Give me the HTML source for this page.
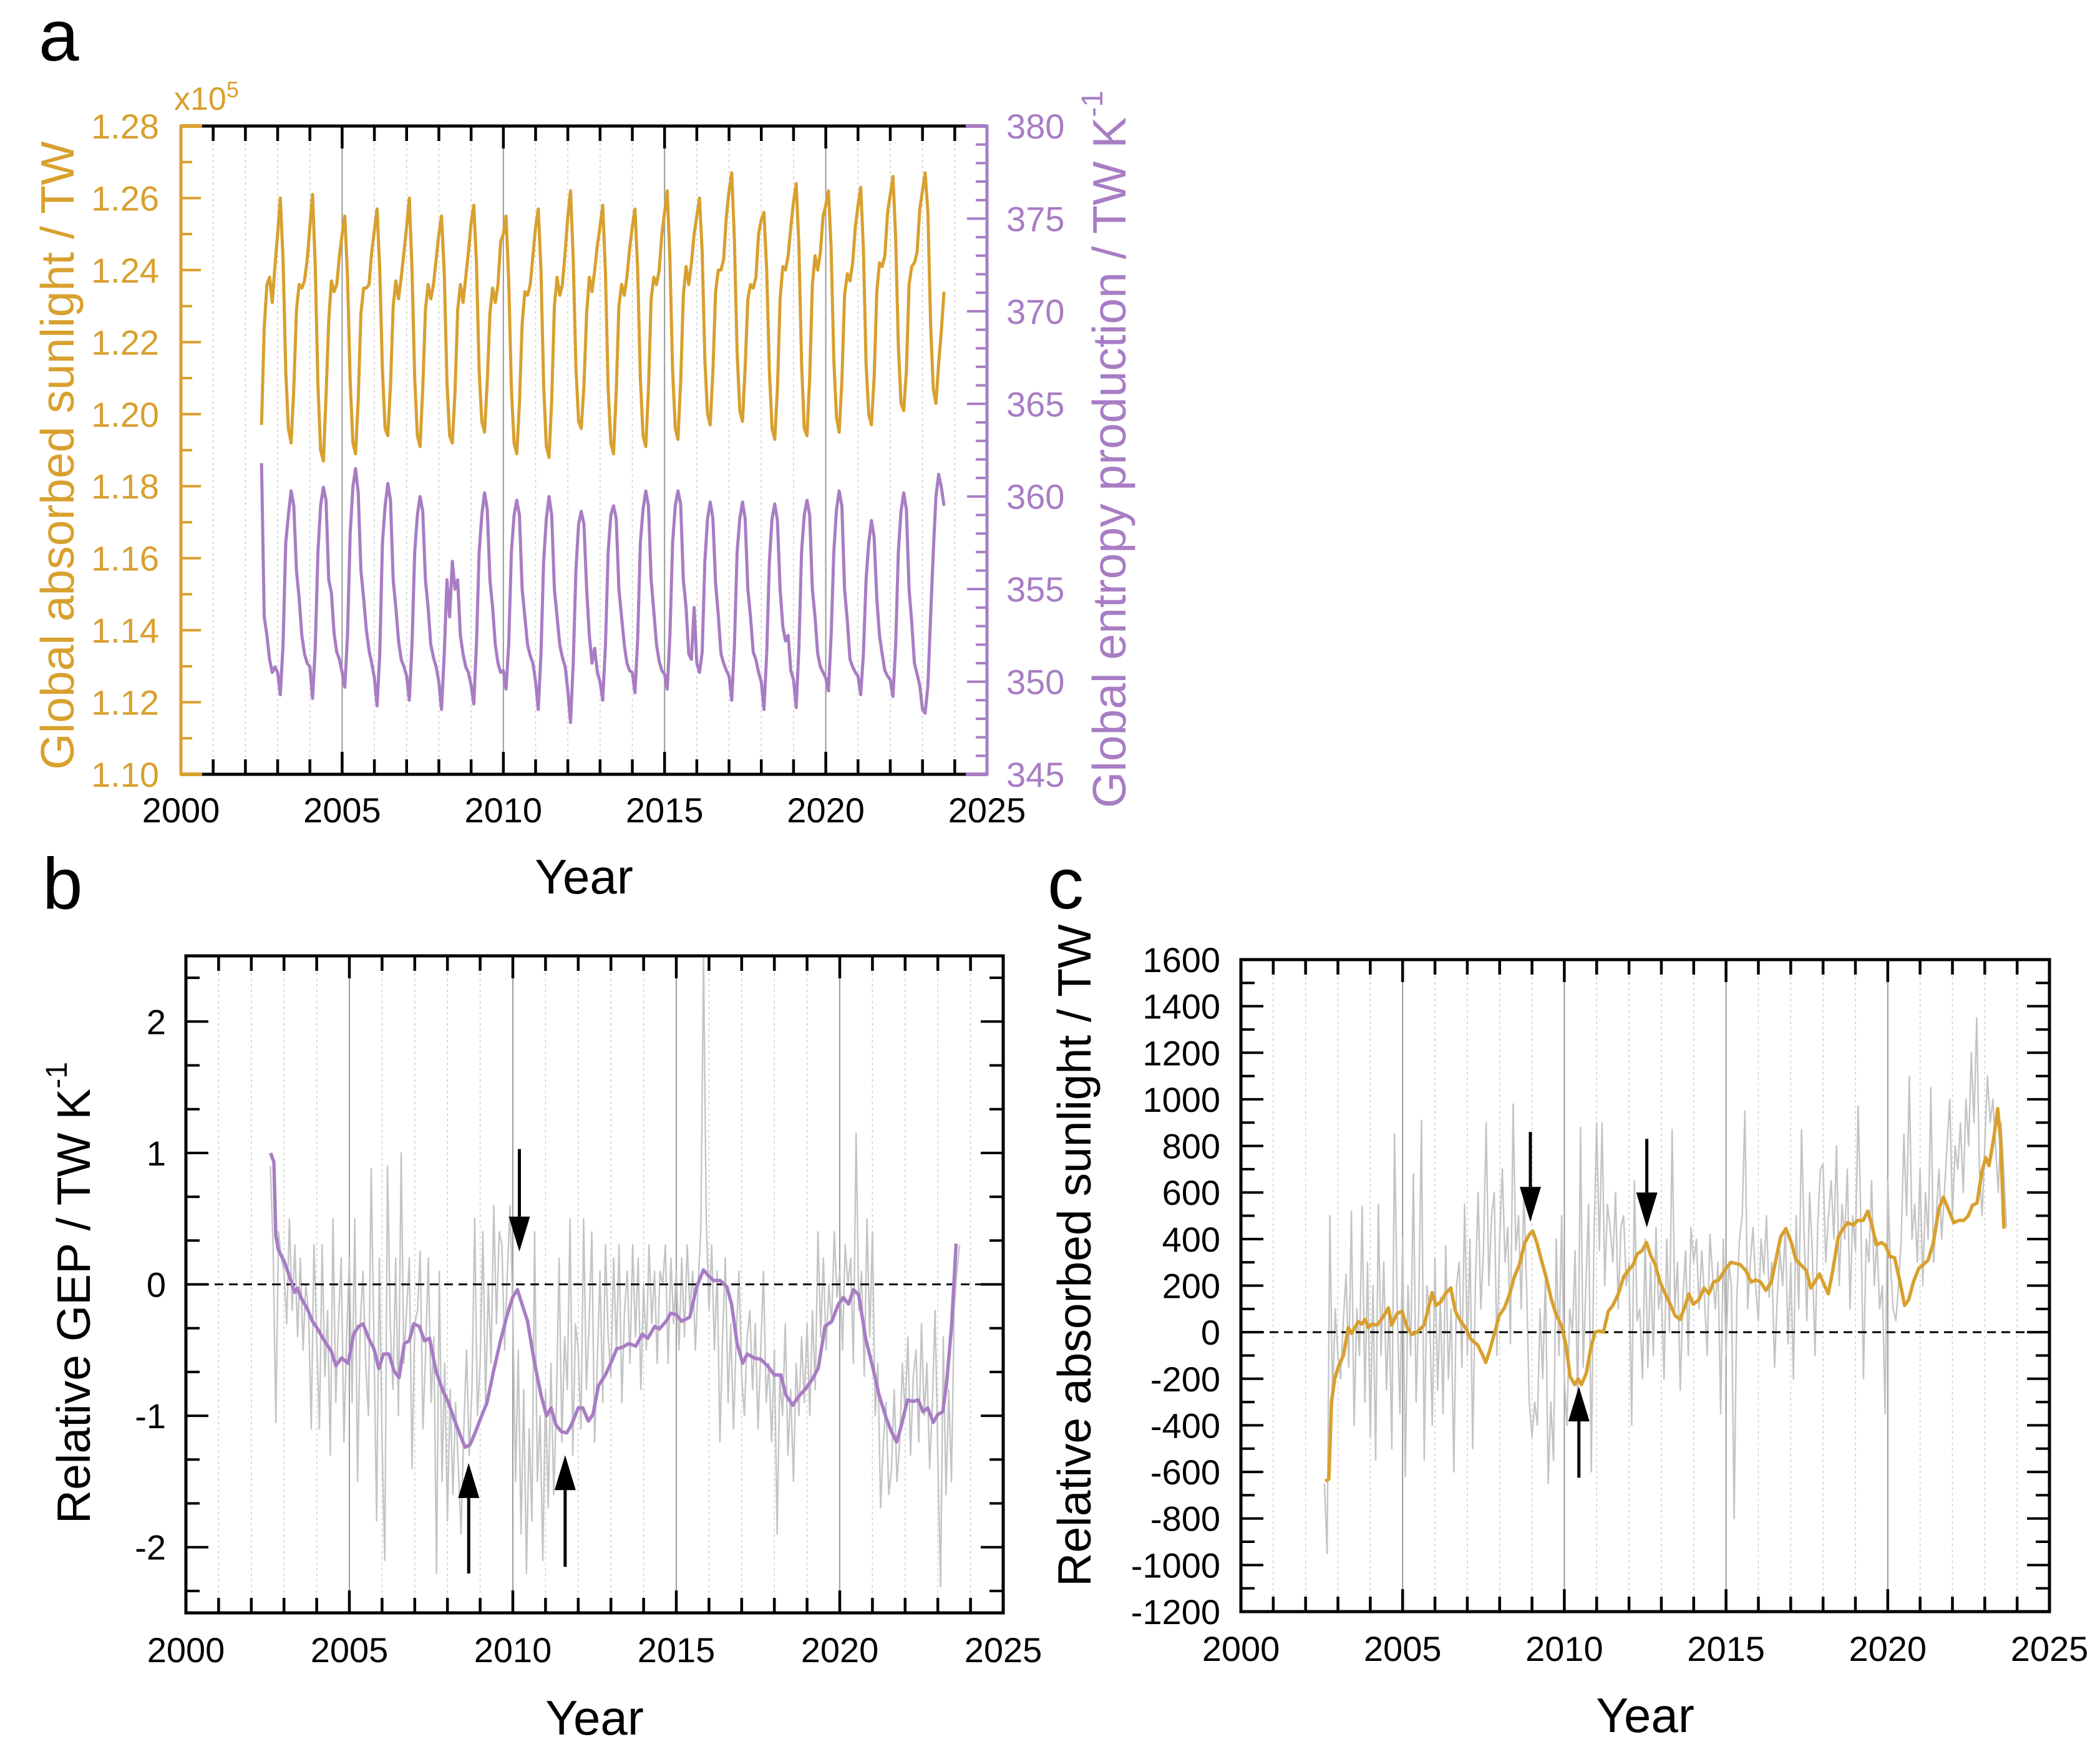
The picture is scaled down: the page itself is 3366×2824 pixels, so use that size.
<!DOCTYPE html>
<html><head><meta charset="utf-8"><style>
html,body{margin:0;padding:0;background:#fff;}
svg{display:block;font-family:"Liberation Sans",Arial,sans-serif;}
</style></head><body>
<svg id="fig" width="3366" height="2824" viewBox="0 0 3366 2824" xmlns="http://www.w3.org/2000/svg">
<rect x="0" y="0" width="3366" height="2824" fill="#fff"/>
<defs>
<clipPath id="clipA"><rect x="290" y="202" width="1292" height="1039"/></clipPath>
<clipPath id="clipB"><rect x="298" y="1532" width="1310" height="1053"/></clipPath>
<clipPath id="clipC"><rect x="1989" y="1538" width="1296" height="1045"/></clipPath>
</defs>
<g id="panelA"></g>
<g id="panelB"></g>
<g id="panelC"></g>
</svg>
<script>
// ---------- DATA ----------
const yearTicks = [2000, 2005, 2010, 2015, 2020, 2025];
const aLeftTicks = [1.10, 1.12, 1.14, 1.16, 1.18, 1.20, 1.22, 1.24, 1.26, 1.28];
const aRightTicks = [345, 350, 355, 360, 365, 370, 375, 380];
const bTicks = [-2, -1, 0, 1, 2];
const cTicks = [-1200, -1000, -800, -600, -400, -200, 0, 200, 400, 600, 800, 1000, 1200, 1400, 1600];

// Panel a: monthly, starting Jul 2002
const aStartYear = 2002, aStartMonth = 6;
const sunlight = [
1.197,1.224,1.236,1.238,1.231,1.241,
1.250,1.260,1.243,1.212,1.196,1.192,1.207,1.229,1.236,1.235,1.237,1.243,
1.252,1.261,1.241,1.208,1.190,1.187,1.205,1.226,1.237,1.234,1.236,1.244,
1.250,1.255,1.238,1.209,1.192,1.189,1.204,1.228,1.235,1.235,1.236,1.245,
1.251,1.257,1.240,1.212,1.196,1.194,1.208,1.230,1.237,1.232,1.238,1.245,
1.252,1.260,1.240,1.210,1.194,1.191,1.207,1.229,1.236,1.232,1.236,1.243,
1.250,1.255,1.239,1.209,1.194,1.192,1.206,1.229,1.236,1.231,1.238,1.245,
1.253,1.258,1.242,1.212,1.198,1.195,1.209,1.228,1.235,1.231,1.236,1.248,
1.250,1.255,1.237,1.207,1.192,1.189,1.203,1.225,1.234,1.233,1.236,1.244,
1.252,1.257,1.240,1.208,1.191,1.188,1.204,1.230,1.238,1.233,1.236,1.245,
1.255,1.262,1.243,1.213,1.198,1.196,1.208,1.228,1.238,1.234,1.240,1.247,
1.252,1.258,1.239,1.207,1.192,1.189,1.206,1.230,1.236,1.233,1.238,1.246,
1.252,1.257,1.240,1.210,1.194,1.191,1.207,1.232,1.238,1.236,1.240,1.250,
1.256,1.262,1.243,1.212,1.196,1.193,1.209,1.233,1.241,1.236,1.242,1.250,
1.255,1.260,1.245,1.215,1.200,1.197,1.212,1.234,1.240,1.240,1.243,1.255,
1.262,1.267,1.248,1.217,1.201,1.198,1.213,1.232,1.236,1.235,1.238,1.250,
1.254,1.256,1.240,1.212,1.196,1.193,1.207,1.232,1.241,1.240,1.244,1.252,
1.259,1.264,1.247,1.214,1.196,1.194,1.210,1.236,1.244,1.240,1.245,1.255,
1.258,1.262,1.246,1.215,1.199,1.195,1.209,1.233,1.239,1.237,1.242,1.252,
1.258,1.263,1.246,1.214,1.200,1.197,1.210,1.234,1.242,1.241,1.244,1.256,
1.261,1.266,1.249,1.219,1.203,1.201,1.212,1.236,1.241,1.242,1.245,1.257,
1.262,1.267,1.256,1.225,1.207,1.203,1.214,1.223,1.234];
const entropy = [
361.8,353.5,352.5,351.2,350.5,350.8,
350.5,349.3,352.0,357.5,359.0,360.3,359.5,356.0,354.5,352.5,351.5,351.0,
350.8,349.1,351.8,357.0,359.5,360.5,359.8,355.5,354.8,352.6,351.6,351.2,
350.5,349.7,352.5,358.0,360.5,361.5,360.2,356.0,354.5,352.8,351.7,351.0,
350.2,348.7,351.5,357.5,359.5,360.7,359.8,355.5,354.0,352.2,351.2,350.8,
350.3,349.0,352.0,357.0,359.0,360.0,359.2,355.5,354.0,352.0,351.3,350.8,
350.0,348.5,351.5,355.5,353.5,356.5,355.0,355.5,352.5,351.5,350.8,350.5,
349.8,348.8,352.0,357.0,359.0,360.2,359.3,355.5,354.0,352.0,351.0,350.5,
350.6,349.6,352.0,357.0,359.0,359.8,359.0,355.0,353.5,352.0,351.4,351.0,
350.0,348.5,351.5,356.5,358.8,360.0,359.0,355.0,353.5,352.0,351.3,350.8,
349.5,347.8,351.0,356.0,358.5,359.2,358.5,355.0,352.5,351.0,351.8,350.5,
350.0,349.0,352.0,357.0,359.0,359.5,358.8,355.0,353.5,352.0,351.0,350.6,
350.5,349.4,352.3,357.5,359.3,360.3,359.5,355.5,353.8,352.0,351.1,350.6,
350.4,349.6,352.5,357.5,359.5,360.3,359.6,355.5,354.0,351.5,351.2,354.0,
351.0,350.5,351.6,356.5,358.8,359.7,358.8,355.3,353.6,351.5,351.0,350.6,
350.3,349.0,352.0,357.0,358.8,359.7,358.8,355.0,353.5,351.6,351.2,350.5,
350.0,348.5,351.5,356.5,358.8,359.6,358.7,355.0,353.0,352.2,352.5,350.6,
350.1,348.6,351.8,357.0,359.0,359.8,359.0,355.0,353.5,351.5,350.8,350.5,
350.2,349.5,352.5,357.0,359.3,360.3,359.5,355.0,353.3,351.2,350.8,350.5,
350.3,349.3,351.5,355.5,357.5,358.7,357.8,354.5,352.5,351.5,350.6,350.3,
350.1,349.2,352.0,357.0,359.2,360.2,359.3,355.0,353.2,351.0,350.4,349.8,
348.5,348.3,349.8,353.5,357.0,360.0,361.2,360.5,359.5];

// Panel b & c monthly anomalies, starting Aug 2002
const anomStartYear = 2002, anomStartMonth = 7;
const gepMonthly = [
0.9,0.3,-1.05,0.4,0.2,
0.1,-0.3,0.5,-0.2,0.3,-0.4,0.2,-0.5,0.0,-0.2,-1.1,0.3,
-0.4,-1.1,0.3,-0.7,-0.2,-1.3,0.5,-0.9,-0.3,0.2,-1.2,-0.4,
0.2,-0.9,0.5,-1.5,-0.3,0.1,-0.6,-1.0,0.88,-0.4,-1.8,0.2,
-1.2,-2.1,0.9,-0.3,-0.8,0.2,-1.0,1.0,-0.6,-0.2,0.2,-1.4,
-0.3,-0.2,0.25,-1.1,-0.5,0.2,-0.9,-0.4,-2.2,0.1,-1.5,-0.6,
-1.8,-0.8,-1.6,-0.9,-1.4,-1.9,-1.1,-0.5,-1.3,-0.8,0.5,-1.0,
-0.6,0.4,-0.9,0.0,-0.6,0.6,-0.3,0.4,0.3,-0.5,0.1,0.6,
-0.2,-1.5,-0.5,-1.9,-0.8,-2.2,-1.1,-1.8,0.4,-1.5,-1.0,-2.1,
-0.8,-1.7,-0.6,-1.6,-0.9,0.2,-1.2,-0.4,-0.8,0.5,-1.3,-0.3,
-0.5,-1.1,0.5,-0.8,-0.3,0.4,-1.2,-0.6,0.1,-0.9,0.3,-0.4,
-0.7,0.2,-0.5,0.3,-0.9,-0.2,0.1,-0.6,0.3,-0.4,0.2,-0.8,
0.0,-0.5,0.3,-0.3,0.1,-0.6,0.1,0.0,0.3,-0.6,0.2,-0.3,
0.1,-0.5,0.2,-0.4,0.3,-0.2,0.1,-0.5,0.0,0.4,2.5,0.5,
-0.2,0.3,-0.5,0.1,-1.2,-0.4,0.2,-0.9,-0.3,-1.1,-0.4,0.1,
-0.7,-1.0,-0.4,-0.2,-0.8,-0.3,-1.1,-0.5,0.1,-0.9,-0.6,-1.2,
-0.5,-1.9,-0.7,-1.0,-0.3,-1.3,-0.8,-1.5,-0.6,-1.0,-0.4,-0.9,
-0.3,-1.0,-0.2,-0.8,0.4,-0.4,0.2,-0.5,0.0,-0.3,0.4,-0.1,
0.1,-0.5,0.3,0.0,0.2,-0.6,1.15,-0.2,0.1,-0.7,0.5,-0.4,
0.4,-1.0,-0.6,-1.7,-1.2,-0.9,-1.6,-1.4,-0.8,-1.5,-1.2,-0.6,
-1.0,-0.4,-1.3,-0.7,-0.5,-1.2,-0.3,-1.0,-0.6,-1.4,-0.9,-0.2,
-1.3,-2.3,-0.4,-1.6,-0.8,-1.5,-0.2,0.1,0.3];
const sunMonthly = [
-650,-950,500,-300,100,
-100,-200,50,250,-150,520,-400,100,-100,540,-300,300,
-450,200,-550,550,-100,300,-250,100,-500,850,100,-350,
400,-620,200,-100,680,-300,100,910,-550,200,100,-400,
320,-250,150,-350,370,-200,100,-600,200,300,-150,550,
-100,400,-500,200,600,100,350,900,200,500,600,-100,
400,700,300,450,-50,980,350,500,100,600,200,-300,
-450,-300,-400,100,-200,250,-650,-300,-550,400,-100,500,
-200,-400,100,0,350,-350,880,-150,200,550,-600,400,
900,350,900,200,550,450,300,600,100,450,500,200,
300,-400,650,50,100,-200,400,-150,300,-100,450,100,
200,-200,400,0,870,100,300,-250,150,350,-100,450,
300,400,100,350,150,-100,420,250,100,300,-350,400,
-100,300,200,-800,150,400,500,950,100,300,450,200,
50,400,250,500,150,300,-150,150,350,200,450,-50,
300,-200,500,100,870,400,50,600,350,-100,450,700,
720,300,500,650,400,800,200,550,400,700,100,500,
350,970,500,-200,400,300,650,200,400,100,200,-350,
650,300,100,50,200,400,850,500,1100,400,550,300,
700,200,600,400,1050,300,500,700,400,600,800,1000,
500,800,700,900,600,1000,800,1200,900,1350,700,500,
800,1100,900,1000,800,600,900,700,450];

// Panel b: 12-month running mean (years, values)
const gepSmoothYears = [2002.59,2002.69,2002.75,2002.83,2003.00,2003.10,2003.25,2003.33,2003.41,2003.52,2003.72,2003.87,2004.03,2004.24,2004.45,2004.59,2004.76,2004.96,2005.13,2005.28,2005.42,2005.59,2005.75,2005.90,2006.04,2006.21,2006.37,2006.52,2006.68,2006.83,2006.97,2007.14,2007.30,2007.45,2007.65,2007.86,2008.03,2008.21,2008.38,2008.54,2008.69,2008.83,2009.00,2009.21,2009.41,2009.62,2009.83,2009.99,2010.14,2010.28,2010.45,2010.65,2010.86,2011.03,2011.17,2011.32,2011.48,2011.65,2011.79,2012.00,2012.14,2012.31,2012.45,2012.62,2012.83,2013.03,2013.18,2013.34,2013.55,2013.76,2013.96,2014.13,2014.34,2014.48,2014.69,2014.83,2015.00,2015.16,2015.41,2015.62,2015.83,2015.97,2016.14,2016.34,2016.55,2016.69,2016.86,2017.03,2017.17,2017.38,2017.58,2017.79,2018.00,2018.20,2018.35,2018.56,2018.72,2018.97,2019.14,2019.34,2019.55,2019.76,2019.96,2020.11,2020.27,2020.42,2020.58,2020.79,2021.00,2021.20,2021.41,2021.58,2021.74,2021.89,2022.07,2022.24,2022.40,2022.55,2022.69,2022.86,2023.00,2023.15,2023.27,2023.42,2023.56];
const gepSmoothVals = [1.00,0.93,0.37,0.26,0.18,0.11,0.00,-0.06,-0.03,-0.10,-0.19,-0.28,-0.34,-0.43,-0.51,-0.62,-0.56,-0.60,-0.38,-0.32,-0.30,-0.41,-0.49,-0.64,-0.53,-0.53,-0.66,-0.71,-0.45,-0.43,-0.30,-0.32,-0.43,-0.41,-0.66,-0.81,-0.90,-1.03,-1.14,-1.24,-1.22,-1.14,-1.03,-0.90,-0.66,-0.43,-0.23,-0.10,-0.04,-0.15,-0.28,-0.58,-0.84,-1.00,-0.94,-1.07,-1.12,-1.13,-1.07,-0.94,-0.94,-1.04,-0.99,-0.77,-0.69,-0.58,-0.49,-0.48,-0.45,-0.47,-0.38,-0.41,-0.32,-0.34,-0.28,-0.22,-0.23,-0.28,-0.25,-0.02,0.11,0.07,0.03,0.03,-0.02,-0.15,-0.45,-0.60,-0.53,-0.56,-0.57,-0.62,-0.69,-0.69,-0.84,-0.92,-0.86,-0.79,-0.73,-0.64,-0.32,-0.28,-0.15,-0.10,-0.15,-0.04,-0.08,-0.41,-0.62,-0.84,-1.01,-1.12,-1.20,-1.07,-0.88,-0.89,-0.88,-0.97,-0.94,-1.05,-0.99,-0.97,-0.75,-0.32,0.31];

// Panel c: 12-month running mean (years, values)
const sunSmoothYears = [2002.61,2002.72,2002.80,2002.90,2003.01,2003.17,2003.32,2003.42,2003.52,2003.63,2003.73,2003.84,2003.94,2004.04,2004.21,2004.42,2004.56,2004.66,2004.83,2004.98,2005.14,2005.29,2005.45,2005.66,2005.80,2005.91,2006.03,2006.18,2006.32,2006.49,2006.63,2006.80,2006.94,2007.11,2007.32,2007.48,2007.57,2007.69,2007.84,2007.98,2008.15,2008.31,2008.46,2008.61,2008.78,2008.92,2009.02,2009.15,2009.29,2009.43,2009.60,2009.76,2009.91,2010.05,2010.18,2010.32,2010.43,2010.53,2010.68,2010.80,2010.95,2011.09,2011.21,2011.36,2011.50,2011.67,2011.84,2011.98,2012.13,2012.25,2012.40,2012.54,2012.67,2012.81,2012.96,2013.12,2013.29,2013.43,2013.58,2013.74,2013.85,2013.99,2014.16,2014.32,2014.47,2014.61,2014.78,2014.95,2015.15,2015.30,2015.44,2015.61,2015.78,2015.92,2016.07,2016.23,2016.40,2016.54,2016.69,2016.85,2017.02,2017.16,2017.31,2017.48,2017.62,2017.74,2017.89,2018.03,2018.16,2018.30,2018.47,2018.62,2018.76,2018.93,2019.07,2019.24,2019.38,2019.51,2019.65,2019.80,2019.92,2020.07,2020.21,2020.38,2020.52,2020.65,2020.79,2020.96,2021.10,2021.25,2021.41,2021.58,2021.72,2021.87,2022.04,2022.20,2022.35,2022.49,2022.62,2022.76,2022.91,2023.03,2023.13,2023.28,2023.40,2023.49,2023.59];
const sunSmoothVals = [-640,-630,-300,-200,-150,-100,20,-5,20,45,35,55,20,35,30,70,105,30,80,90,20,-10,0,30,105,170,115,130,165,190,90,45,20,-30,-55,-100,-130,-80,-5,70,105,165,240,290,385,420,435,385,310,240,140,70,30,-55,-190,-225,-200,-225,-175,-80,0,5,0,90,115,165,240,265,290,335,350,385,330,290,215,165,115,70,55,115,165,120,140,190,165,215,225,265,300,295,290,265,215,225,215,180,215,310,410,445,385,310,290,265,190,215,250,205,165,265,410,445,470,460,480,480,520,460,375,385,375,325,320,215,115,140,215,275,290,310,385,530,580,530,470,480,480,500,545,555,690,750,715,835,960,825,445];

// Arrow annotations (year, tail value, tip value)
const bArrowYears = [2010.2, 2008.65, 2011.6];
const bArrowTails = [1.03, -2.2, -2.15];
const bArrowTips = [0.25, -1.36, -1.3];
const cArrowYears = [2008.95, 2012.55, 2010.45];
const cArrowTails = [860, 830, -625];
const cArrowTips = [474, 450, -233];

// ---------- DRAWING ----------
const NS = 'http://www.w3.org/2000/svg';
const ORANGE = '#D8A02E', PURPLE = '#A87DC4', GRAY = '#C4C4C4';
function mk(parent, tag, attrs) {
  const el = document.createElementNS(NS, tag);
  for (const k in attrs) el.setAttribute(k, attrs[k]);
  parent.appendChild(el);
  return el;
}
function lin(d0, d1, r0, r1) { return v => r0 + (v - d0) / (d1 - d0) * (r1 - r0); }
function monthTime(startYear, startMonth, i) { return startYear + (startMonth + i) / 12; }

function yearGrid(g, X, top, bottom, name) {
  for (let y = 2001; y <= 2024; y++) {
    const major = y % 5 === 0;
    const l = mk(g, 'line', {x1: X(y), x2: X(y), y1: top, y2: bottom,
      stroke: major ? '#9a9a9a' : '#d0d0d0', 'stroke-width': major ? 2 : 1.6,
      'stroke-dasharray': major ? 'none' : '4 5'});
    
    
  }
}
function yearTicksAxis(g, X, top, bottom, color, baseline, name) {
  for (let y = 2000; y <= 2025; y++) {
    const len = y % 5 === 0 ? 36 : 24;
    mk(g, 'line', {x1: X(y), x2: X(y), y1: bottom, y2: bottom - len, stroke: color, 'stroke-width': 4.5});
    mk(g, 'line', {x1: X(y), x2: X(y), y1: top, y2: top + len, stroke: color, 'stroke-width': 4.5});
  }
  yearTicks.forEach(y => {
    const t = mk(g, 'text', {x: X(y), y: baseline, 'font-size': 56, 'text-anchor': 'middle', fill: '#000'});
    t.textContent = y;
    
    
  });
}
function polyline(g, xs, ys, color, w, clip, name) {
  let d = '';
  for (let i = 0; i < xs.length; i++) d += (i ? 'L' : 'M') + xs[i].toFixed(1) + ' ' + ys[i].toFixed(1);
  const p = mk(g, 'path', {d: d, fill: 'none', stroke: color, 'stroke-width': w, 'stroke-linejoin': 'round', 'clip-path': 'url(#' + clip + ')'});
  
  
  return p;
}
function text(g, x, y, s, size, color, anchor, name, rot) {
  const t = mk(g, 'text', {x: x, y: y, 'font-size': size, fill: color, 'text-anchor': anchor || 'start'});
  if (rot) { t.setAttribute('transform', 'rotate(-90 ' + x + ' ' + y + ')'); t.setAttribute('dominant-baseline', 'central'); }
  t.textContent = s;
  
  
  return t;
}
function arrow(g, x, y0, y1, name) {
  const dir = y1 > y0 ? 1 : -1;
  const headLen = 56, hw = 17;
  const grp = mk(g, 'g', {});
  
  
  mk(grp, 'line', {x1: x, x2: x, y1: y0, y2: y1 - dir * headLen, stroke: '#000', 'stroke-width': 5});
  mk(grp, 'polygon', {points: `${x - hw},${y1 - dir * headLen} ${x + hw},${y1 - dir * headLen} ${x},${y1}`, fill: '#000'});
}

// ---- Panel A ----
(function () {
  const g = document.getElementById('panelA');
  const L = 290, R = 1582, T = 202, B = 1241;
  const X = lin(2000, 2025, L, R), YL = lin(1.10, 1.28, B, T), YR = lin(345, 380, B, T);
  yearGrid(g, X, T, B, 'panel-a');
  mk(g, 'line', {x1: L, x2: R, y1: T, y2: T, stroke: '#000', 'stroke-width': 5});
  mk(g, 'line', {x1: L, x2: R, y1: B, y2: B, stroke: '#000', 'stroke-width': 5});
  yearTicksAxis(g, X, T, B, '#000', 1318, 'panel-a');
  mk(g, 'line', {x1: L, x2: L + 34, y1: T, y2: T, stroke: ORANGE, 'stroke-width': 6});
  mk(g, 'line', {x1: L, x2: L + 34, y1: B, y2: B, stroke: ORANGE, 'stroke-width': 6});
  mk(g, 'line', {x1: R - 34, x2: R, y1: T, y2: T, stroke: PURPLE, 'stroke-width': 6});
  mk(g, 'line', {x1: R - 34, x2: R, y1: B, y2: B, stroke: PURPLE, 'stroke-width': 6});
  const la = mk(g, 'line', {x1: L, x2: L, y1: T - 2, y2: B + 2, stroke: ORANGE, 'stroke-width': 5});
  
  
  const ra = mk(g, 'line', {x1: R, x2: R, y1: T - 2, y2: B + 2, stroke: PURPLE, 'stroke-width': 5});
  
  
  for (let k = 0; k <= 18; k++) {
    const v = 1.10 + k * 0.01, len = k % 2 === 0 ? 32 : 18;
    mk(g, 'line', {x1: L, x2: L + len, y1: YL(v), y2: YL(v), stroke: ORANGE, 'stroke-width': 4});
  }
  for (let v = 345; v <= 380; v++) {
    const len = v % 5 === 0 ? 32 : 18;
    mk(g, 'line', {x1: R, x2: R - len, y1: YR(v), y2: YR(v), stroke: PURPLE, 'stroke-width': 4});
  }
  aLeftTicks.forEach(v => text(g, 255, YL(v) + 20, v.toFixed(2), 56, ORANGE, 'end', 'left-y-tick-label'));
  aRightTicks.forEach(v => text(g, 1613, YR(v) + 20, String(v), 56, PURPLE, 'start', 'right-y-tick-label'));
  const xe = mk(g, 'text', {x: 279, y: 176, 'font-size': 52, fill: ORANGE});
  xe.innerHTML = 'x10<tspan dy="-20" font-size="36">5</tspan>';
  
  
  polyline(g, sunlight.map((v, i) => X(monthTime(aStartYear, aStartMonth, i))), sunlight.map(v => YL(v)), ORANGE, 5, 'clipA', 'absorbed-sunlight-line');
  polyline(g, entropy.map((v, i) => X(monthTime(aStartYear, aStartMonth, i))), entropy.map(v => YR(v)), PURPLE, 5, 'clipA', 'entropy-production-line');
  text(g, 92, 730, 'Global absorbed sunlight / TW', 75, ORANGE, 'middle', 'left-y-axis-title', true);
  const rt = mk(g, 'text', {x: 1778, y: 720, 'font-size': 75, fill: PURPLE, 'text-anchor': 'middle', 'dominant-baseline': 'central', transform: 'rotate(-90 1778 720)'});
  rt.innerHTML = 'Global entropy production / TW K<tspan dy="-27" font-size="48">-1</tspan>';
  
  
  text(g, 936, 1432, 'Year', 78, '#000', 'middle', 'x-axis-title');
  text(g, 62, 97, 'a', 116, '#000', 'start', 'panel-label-a');
})();

// ---- Panel B ----
(function () {
  const g = document.getElementById('panelB');
  const L = 298, R = 1608, T = 1532, B = 2585;
  const X = lin(2000, 2025, L, R), Y = lin(-2.5, 2.5, B, T);
  yearGrid(g, X, T, B, 'panel-b');
  polyline(g, gepMonthly.map((v, i) => X(monthTime(anomStartYear, anomStartMonth, i))), gepMonthly.map(v => Y(v)), GRAY, 2.4, 'clipB', 'gep-monthly-line');
  const z = mk(g, 'line', {x1: L, x2: R, y1: Y(0), y2: Y(0), stroke: '#000', 'stroke-width': 3, 'stroke-dasharray': '14 9'});
  
  
  polyline(g, gepSmoothYears.map(X), gepSmoothVals.map(Y), PURPLE, 5.5, 'clipB', 'gep-running-mean-line');
  for (let k = -7; k <= 7; k++) {
    const v = k / 3, len = k % 3 === 0 ? 36 : 22;
    mk(g, 'line', {x1: L, x2: L + len, y1: Y(v), y2: Y(v), stroke: '#000', 'stroke-width': 4});
    mk(g, 'line', {x1: R, x2: R - len, y1: Y(v), y2: Y(v), stroke: '#000', 'stroke-width': 4});
  }
  const box = mk(g, 'rect', {x: L, y: T, width: R - L, height: B - T, fill: 'none', stroke: '#000', 'stroke-width': 5});
  
  
  yearTicksAxis(g, X, T, B, '#000', 2664, 'panel-b');
  bTicks.forEach(v => text(g, 266, Y(v) + 20, String(v), 56, '#000', 'end', 'y-tick-label'));
  bArrowYears.forEach((yr, i) => arrow(g, X(yr), Y(bArrowTails[i]), Y(bArrowTips[i]), 'annotation-arrow'));
  const yt = mk(g, 'text', {x: 118, y: 2072, 'font-size': 75, fill: '#000', 'text-anchor': 'middle', 'dominant-baseline': 'central', transform: 'rotate(-90 118 2072)'});
  yt.innerHTML = 'Relative GEP / TW K<tspan dy="-27" font-size="48">-1</tspan>';
  
  
  text(g, 953, 2780, 'Year', 78, '#000', 'middle', 'x-axis-title');
  text(g, 68, 1456, 'b', 116, '#000', 'start', 'panel-label-b');
})();

// ---- Panel C ----
(function () {
  const g = document.getElementById('panelC');
  const L = 1989, R = 3285, T = 1538, B = 2583;
  const X = lin(2000, 2025, L, R), Y = lin(-1200, 1600, B, T);
  yearGrid(g, X, T, B, 'panel-c');
  polyline(g, sunMonthly.map((v, i) => X(monthTime(anomStartYear, anomStartMonth, i))), sunMonthly.map(v => Y(v)), GRAY, 2.4, 'clipC', 'sunlight-monthly-line');
  const z = mk(g, 'line', {x1: L, x2: R, y1: Y(0), y2: Y(0), stroke: '#000', 'stroke-width': 3, 'stroke-dasharray': '14 9'});
  
  
  polyline(g, sunSmoothYears.map(X), sunSmoothVals.map(Y), ORANGE, 5.5, 'clipC', 'sunlight-running-mean-line');
  for (let v = -1200; v <= 1600; v += 100) {
    const len = v % 200 === 0 ? 36 : 22;
    mk(g, 'line', {x1: L, x2: L + len, y1: Y(v), y2: Y(v), stroke: '#000', 'stroke-width': 4});
    mk(g, 'line', {x1: R, x2: R - len, y1: Y(v), y2: Y(v), stroke: '#000', 'stroke-width': 4});
  }
  const box = mk(g, 'rect', {x: L, y: T, width: R - L, height: B - T, fill: 'none', stroke: '#000', 'stroke-width': 5});
  
  
  yearTicksAxis(g, X, T, B, '#000', 2662, 'panel-c');
  cTicks.forEach(v => text(g, 1956, Y(v) + 20, String(v), 56, '#000', 'end', 'y-tick-label'));
  cArrowYears.forEach((yr, i) => arrow(g, X(yr), Y(cArrowTails[i]), Y(cArrowTips[i]), 'annotation-arrow'));
  text(g, 1722, 2012, 'Relative absorbed sunlight / TW', 75, '#000', 'middle', 'y-axis-title', true);
  text(g, 2637, 2776, 'Year', 78, '#000', 'middle', 'x-axis-title');
  text(g, 1679, 1456, 'c', 116, '#000', 'start', 'panel-label-c');
})();
</script>
</body></html>
